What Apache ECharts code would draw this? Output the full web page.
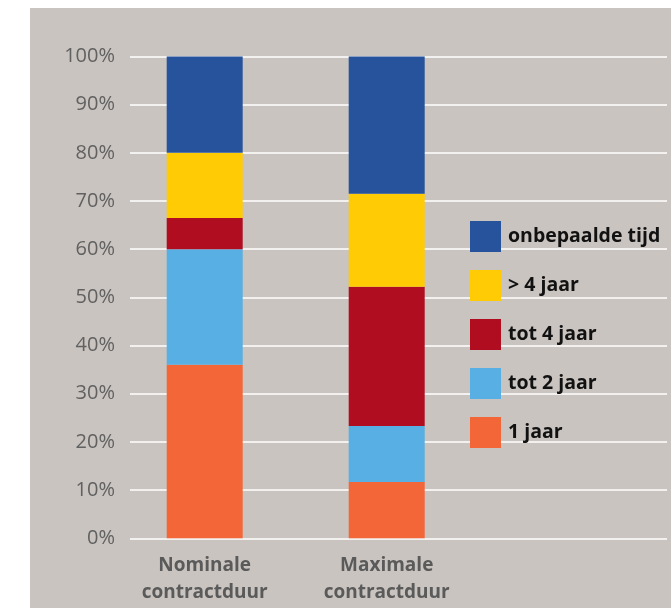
<!DOCTYPE html>
<html>
<head>
<meta charset="utf-8">
<script src="https://cdn.jsdelivr.net/npm/echarts@6/dist/echarts.min.js"></script>
<style>
  html, body { margin: 0; padding: 0; background: #ffffff; }
  #chart { width: 671px; height: 608px; }
</style>
</head>
<body>
<div id="chart"></div>
<script>
// Contract duration categories
const categories = ['Nominale\ncontractduur', 'Maximale\ncontractduur'];

// Share per duration class (%), bottom to top of each stacked bar
const seriesNames = ['1 jaar', 'tot 2 jaar', 'tot 4 jaar', '> 4 jaar', 'onbepaalde tijd'];
const eenJaar       = [36, 11.7];
const tot2Jaar      = [24, 11.6];
const tot4Jaar      = [6.5, 28.9];
const meerDan4Jaar  = [13.5, 19.3];
const onbepaald     = [20, 28.5];
const seriesValues = [eenJaar, tot2Jaar, tot4Jaar, meerDan4Jaar, onbepaald];

const colors = ['#f26638', '#58afe3', '#b00e20', '#ffcb05', '#26539b'];

const chart = echarts.init(document.getElementById('chart'), null, { renderer: 'canvas' });

const plotTop = 56.5, plotBottom = 69.7;

chart.setOption({
  animation: false,
  graphic: [{
    type: 'rect',
    z: -10,
    silent: true,
    shape: { x: 30, y: 8, width: 641, height: 600 },
    style: { fill: '#c9c4c0' }
  }],
  grid: [
    // grid carrying the percentage axis and the white gridlines
    { left: 130, right: 4, top: plotTop, bottom: plotBottom },
    // grid holding the two stacked bars
    { left: 113.7, width: 364, top: plotTop, bottom: plotBottom }
  ],
  xAxis: [
    { gridIndex: 0, type: 'value', show: false, min: 0, max: 1 },
    {
      gridIndex: 1,
      type: 'category',
      data: categories,
      axisLine: { show: false },
      axisTick: { show: false },
      axisLabel: {
        margin: 14,
        fontFamily: 'Open Sans',
        fontWeight: 'bold',
        fontSize: 19,
        lineHeight: 27,
        color: '#5a5a5a'
      }
    }
  ],
  yAxis: [
    {
      gridIndex: 0,
      type: 'value',
      min: 0,
      max: 100,
      interval: 10,
      axisLine: { show: false },
      axisTick: { show: false },
      axisLabel: {
        formatter: '{value}%',
        margin: 15,
        fontFamily: 'Open Sans',
        fontSize: 20,
        color: '#616161'
      },
      splitLine: { lineStyle: { color: '#f3f1ef', width: 2 } }
    },
    { gridIndex: 1, type: 'value', min: 0, max: 100, show: false }
  ],
  legend: {
    orient: 'vertical',
    left: 470,
    top: 221,
    padding: 0,
    itemWidth: 31,
    itemHeight: 31,
    itemGap: 18,
    icon: 'rect',
    data: seriesNames.slice().reverse(),
    textStyle: {
      fontFamily: 'Open Sans',
      fontWeight: 'bold',
      fontSize: 19.5,
      color: '#111111',
      padding: [4, 0, 0, 2]
    }
  },
  series: seriesNames.map((name, i) => ({
    name: name,
    type: 'bar',
    stack: 'duur',
    xAxisIndex: 1,
    yAxisIndex: 1,
    barWidth: 76,
    data: seriesValues[i],
    itemStyle: { color: colors[i] }
  }))
});
</script>
</body>
</html>
